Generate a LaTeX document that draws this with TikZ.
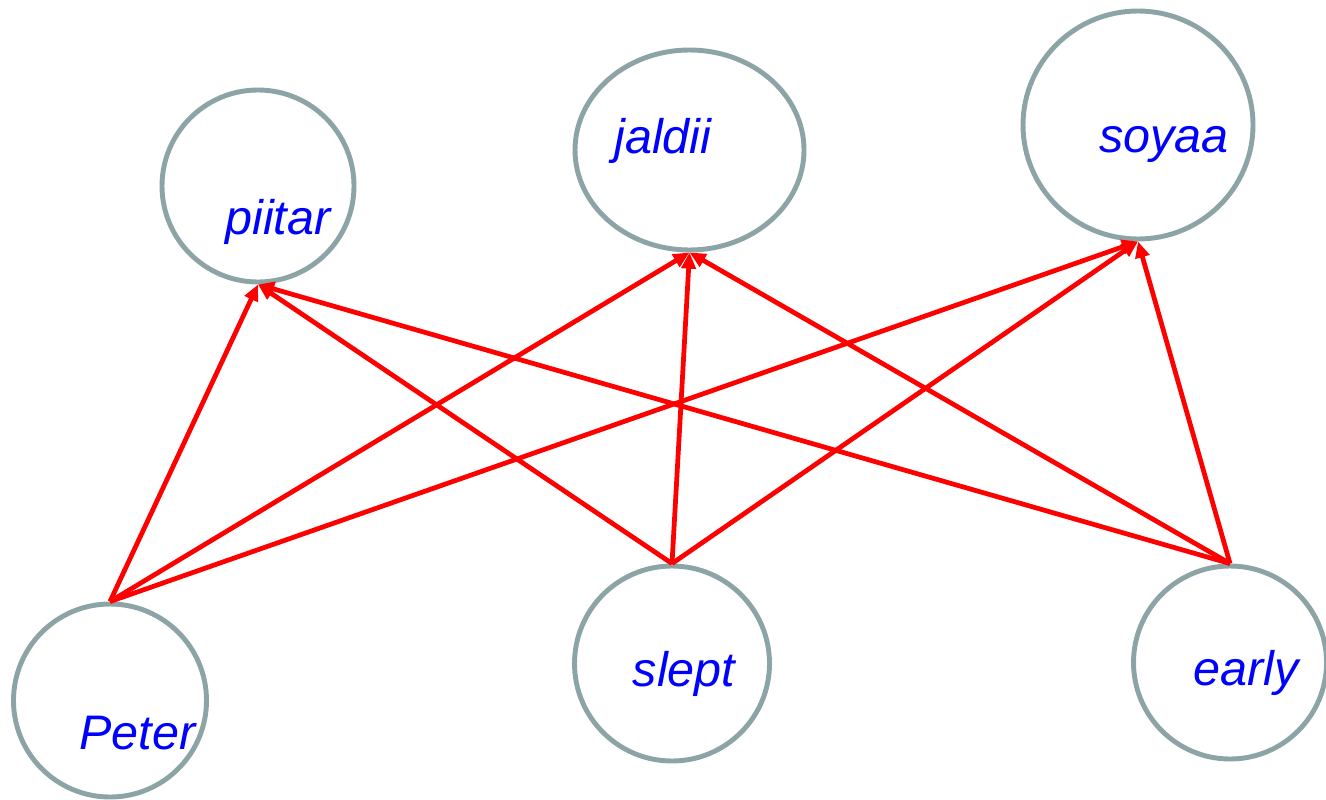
\documentclass[tikz,border=0pt]{standalone}
\usepackage{fontspec}
\setmainfont{Liberation Sans}
\usetikzlibrary{arrows.meta,shapes.geometric}

\definecolor{ringgray}{RGB}{140,164,166}

\begin{document}
\begin{tikzpicture}[
                ring/.style={
                    draw=ringgray,
                    line width=1.4pt,
                    ellipse,
                    inner sep=0pt
                },
                word/.style={
                    text=blue,
                    anchor=base,
                    inner sep=0pt,
                    font=\fontsize{13.8}{16}\selectfont\itshape
                },
                arrow/.style={
                    -{Triangle[length=4.6pt,width=4pt]},
                    draw=red,
                    line width=1.35pt
                }
            ]
                \useasboundingbox (0,0) rectangle (13.26,7.99);

                % hindi words on top
                \node[ring, minimum width=1.92cm, minimum height=1.92cm] (piitar) at (2.58,6.13) {};
                \node[ring, minimum width=2.29cm, minimum height=2.00cm] (jaldii) at (6.895,6.49) {};
                \node[ring, minimum width=2.30cm, minimum height=2.28cm] (soyaa) at (11.38,6.74) {};

                % english words below
                \node[ring, minimum width=1.93cm, minimum height=1.93cm] (peter) at (1.10,0.985) {};
                \node[ring, minimum width=1.95cm, minimum height=1.95cm] (slept) at (6.72,1.355) {};
                \node[ring, minimum width=1.93cm, minimum height=1.93cm] (early) at (12.30,1.365) {};

                \node[word] (piitartxt) at (2.78,5.65)  {piitar};
                \node[word] (jaldiitxt) at (6.63,6.45)  {jaldii};
                \node[word] (soyaatxt)  at (11.64,6.46) {soyaa};
                \node[word] (petertxt)  at (1.375,0.50) {Peter};
                \node[word] (slepttxt)  at (6.84,1.13)  {slept};
                \node[word] (earlytxt)  at (12.46,1.14) {early};

                \draw[arrow] (peter.north) -- (piitar.south);
                \draw[arrow] (peter.north) -- (jaldii.south);
                \draw[arrow] (peter.north) -- (soyaa.south);
                \draw[arrow] (slept.north) -- (piitar.south);
                \draw[arrow] (slept.north) -- (jaldii.south);
                \draw[arrow] (slept.north) -- (soyaa.south);
                \draw[arrow] (early.north) -- (piitar.south);
                \draw[arrow] (early.north) -- (jaldii.south);
                \draw[arrow] (early.north) -- (soyaa.south);
        \end{tikzpicture}
\end{document}
